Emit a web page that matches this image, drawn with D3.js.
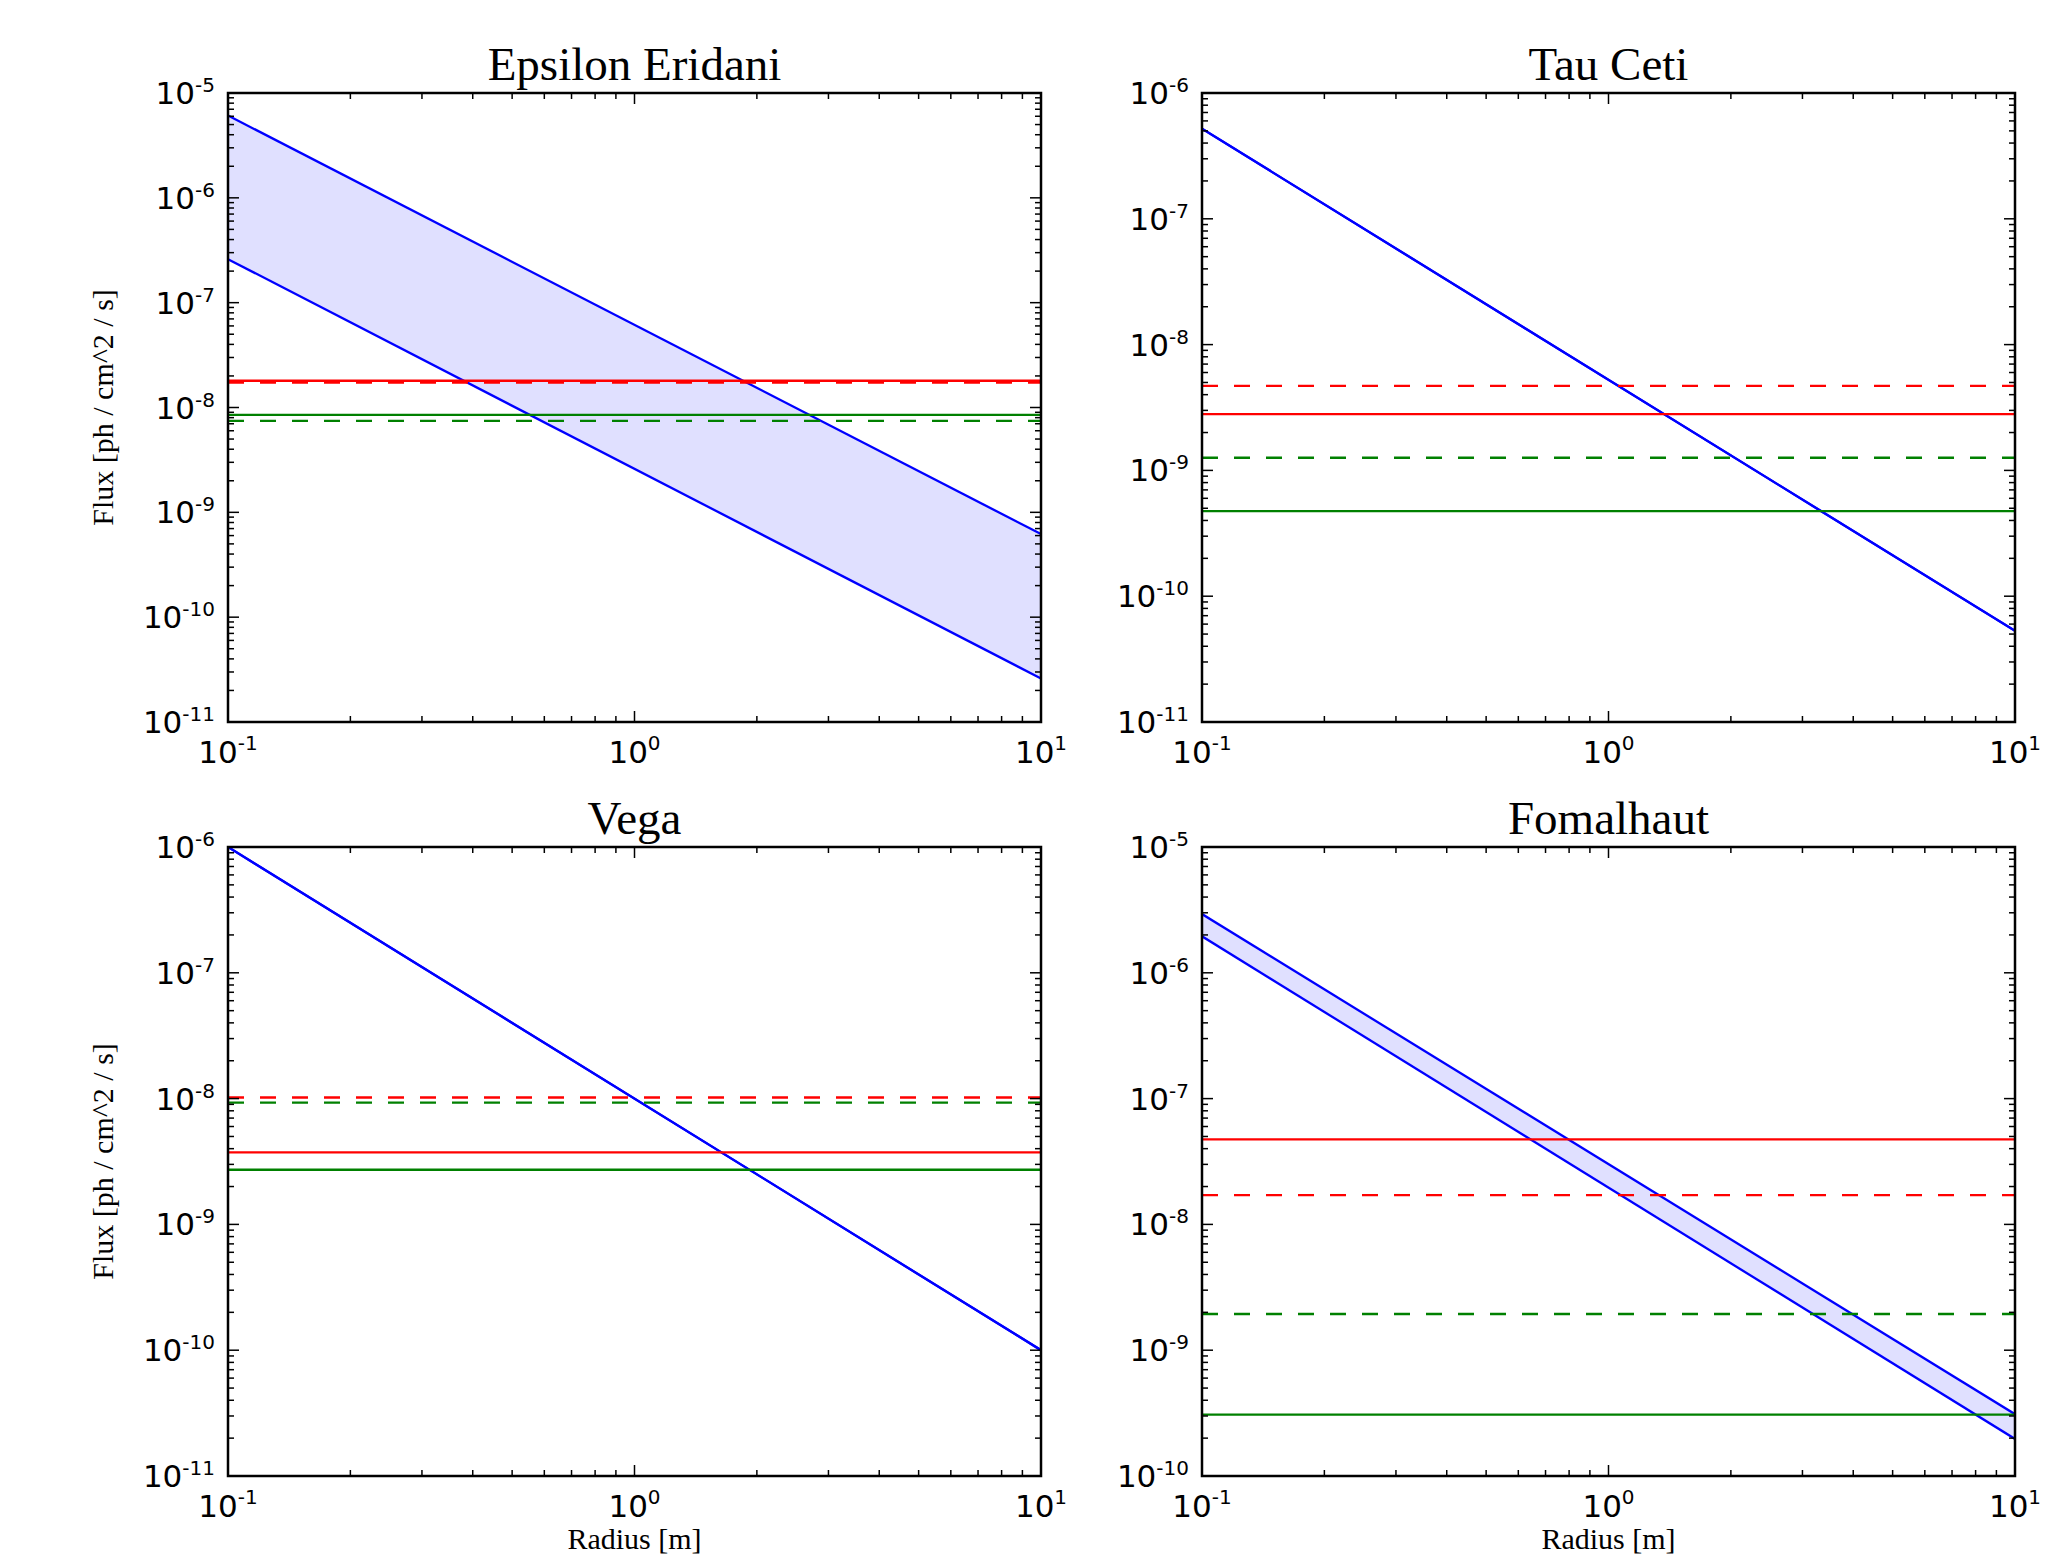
<!DOCTYPE html>
<html>
<head>
<meta charset="utf-8">
<script src="https://cdn.jsdelivr.net/npm/d3@7"></script>
<style>
    html, body { margin: 0; padding: 0; background: #fff; }
    svg { display: block; }
</style>
</head>
<body>
<div id="chart"></div>
<script>
// Data
const stars = ["Epsilon Eridani", "Tau Ceti", "Vega", "Fomalhaut"];
const yDomains = [
    [1e-11, 1e-5],
    [1e-11, 1e-6],
    [1e-11, 1e-6],
    [1e-10, 1e-5],
];
const radius = [0.1, 10];
// flux at radius[0] and radius[1]
const fluxUpper = [
    [6.1e-6, 6.2e-10],
    [5.2e-7, 5.3e-11],
    [1.0e-6, 1.0e-10],
    [2.93e-6, 3.1e-10],
];
const fluxLower = [
    [2.6e-7, 2.6e-11],
    [5.2e-7, 5.3e-11],
    [1.0e-6, 1.0e-10],
    [1.95e-6, 1.97e-10],
];
const redSolid = [1.8e-8, 2.8e-9, 3.74e-9, 4.74e-8];
const redDashed = [1.73e-8, 4.7e-9, 1.02e-8, 1.71e-8];
const greenSolid = [8.5e-9, 4.75e-10, 2.72e-9, 3.08e-10];
const greenDashed = [7.45e-9, 1.26e-9, 9.3e-9, 1.94e-9];

// Layout
const width = 2060,
    height = 1557;
const colX = [228, 1202];
const rowY = [93, 847];
const pw = 813,
    ph = 629;
const majorLen = 11,
    minorLen = 6;

const svg = d3
    .select("#chart")
    .append("svg")
    .attr("width", width)
    .attr("height", height);

stars.forEach((name, i) => {
    const col = i % 2,
        row = Math.floor(i / 2);
    const g = svg
        .append("g")
        .attr("transform", `translate(${colX[col]},${rowY[row]})`);

    const x = d3.scaleLog().domain([0.1, 10]).range([0, pw]);
    const y = d3.scaleLog().domain(yDomains[i]).range([ph, 0]);

    // clip
    g.append("clipPath")
        .attr("id", "clip" + i)
        .append("rect")
        .attr("width", pw)
        .attr("height", ph);
    const plot = g.append("g").attr("clip-path", `url(#clip${i})`);

    // band between lower and upper
    const band = radius.map((r, k) => ({
        r: r,
        lo: fluxLower[i][k],
        hi: fluxUpper[i][k],
    }));
    plot.append("path")
        .datum(band)
        .attr(
            "d",
            d3
                .area()
                .x((d) => x(d.r))
                .y0((d) => y(d.lo))
                .y1((d) => y(d.hi)),
        )
        .attr("fill", "blue")
        .attr("fill-opacity", 0.12);

    const line = d3
        .line()
        .x((d) => x(d.r))
        .y((d) => y(d.f));

    // blue power-law lines
    [fluxUpper[i], fluxLower[i]].forEach((vals) => {
        plot.append("path")
            .datum(radius.map((r, k) => ({ r: r, f: vals[k] })))
            .attr("d", line)
            .attr("fill", "none")
            .attr("stroke", "#0000ff")
            .attr("stroke-width", 2.3);
    });

    // thresholds
    const levels = [
        { v: redSolid[i], c: "#ff0000", dash: null },
        { v: redDashed[i], c: "#ff0000", dash: "16,16" },
        { v: greenSolid[i], c: "#008000", dash: null },
        { v: greenDashed[i], c: "#008000", dash: "16,16" },
    ];
    levels.forEach((l) => {
        plot.append("path")
            .datum(radius.map((r) => ({ r: r, f: l.v })))
            .attr("d", line)
            .attr("fill", "none")
            .attr("stroke", l.c)
            .attr("stroke-width", 2.3)
            .attr("stroke-dasharray", l.dash);
    });

    // ticks (inward, all four sides)
    const ticks = g.append("g").attr("stroke", "#000").attr("stroke-width", 1.5);
    const xMajor = [0.1, 1, 10];
    const xMinor = [];
    [0.1, 1].forEach((b) => {
        for (let k = 2; k <= 9; k++) xMinor.push(b * k);
    });
    const e0 = Math.round(Math.log10(yDomains[i][0])),
        e1 = Math.round(Math.log10(yDomains[i][1]));
    const yMajor = d3.range(e0, e1 + 1);
    const yMinor = [];
    for (let e = e0; e < e1; e++) {
        for (let k = 2; k <= 9; k++) yMinor.push(k * Math.pow(10, e));
    }

    xMajor.concat(xMinor).forEach((v, k) => {
        const len = k < xMajor.length ? majorLen : minorLen;
        const px = x(v);
        ticks.append("line").attr("x1", px).attr("x2", px).attr("y1", ph).attr("y2", ph - len);
        ticks.append("line").attr("x1", px).attr("x2", px).attr("y1", 0).attr("y2", len);
    });
    yMajor
        .map((e) => Math.pow(10, e))
        .concat(yMinor)
        .forEach((v, k) => {
            const len = k < yMajor.length ? majorLen : minorLen;
            const py = y(v);
            ticks.append("line").attr("x1", 0).attr("x2", len).attr("y1", py).attr("y2", py);
            ticks.append("line").attr("x1", pw).attr("x2", pw - len).attr("y1", py).attr("y2", py);
        });

    // frame
    g.append("rect")
        .attr("width", pw)
        .attr("height", ph)
        .attr("fill", "none")
        .attr("stroke", "#000")
        .attr("stroke-width", 2.5);

    // tick labels
    const labelFont = "DejaVu Sans";
    xMajor.forEach((v) => {
        const t = g
            .append("text")
            .attr("x", x(v))
            .attr("y", ph + 41)
            .attr("text-anchor", "middle")
            .attr("font-family", labelFont)
            .attr("font-size", 31);
        t.append("tspan").text("10");
        t.append("tspan")
            .attr("dy", -13)
            .attr("font-size", 20)
            .text(Math.round(Math.log10(v)));
    });
    yMajor.forEach((e) => {
        const t = g
            .append("text")
            .attr("x", -13)
            .attr("y", y(Math.pow(10, e)) + 11)
            .attr("text-anchor", "end")
            .attr("font-family", labelFont)
            .attr("font-size", 31);
        t.append("tspan").text("10");
        t.append("tspan").attr("dy", -12).attr("font-size", 20).text(e);
    });

    // title
    g.append("text")
        .attr("x", pw / 2)
        .attr("y", -13)
        .attr("text-anchor", "middle")
        .attr("font-family", "Liberation Serif")
        .attr("font-size", 47)
        .text(name);

    // axis labels
    if (col === 0) {
        g.append("text")
            .attr("transform", `translate(${113 - colX[0]},${ph / 2}) rotate(-90)`)
            .attr("text-anchor", "middle")
            .attr("font-family", "Liberation Serif")
            .attr("font-size", 30)
            .text("Flux [ph / cm^2 / s]");
    }
    if (row === 1) {
        g.append("text")
            .attr("x", pw / 2)
            .attr("y", 1549 - rowY[1])
            .attr("text-anchor", "middle")
            .attr("font-family", "Liberation Serif")
            .attr("font-size", 30)
            .text("Radius [m]");
    }
});
</script>
</body>
</html>
